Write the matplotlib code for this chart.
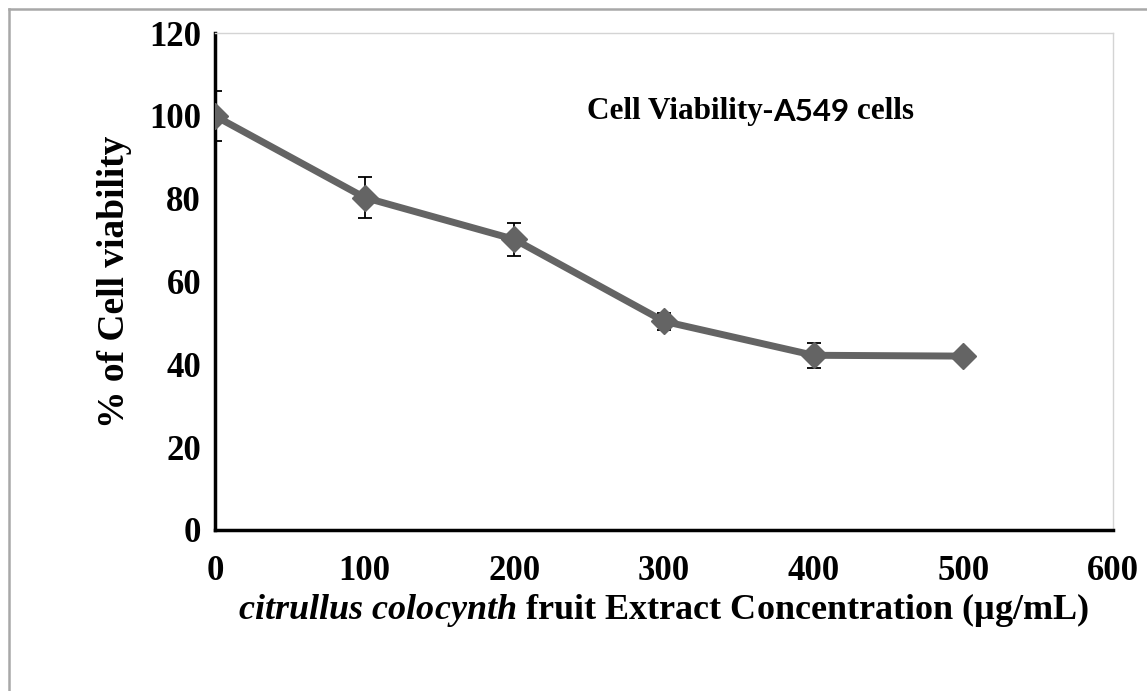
import numpy as np
import matplotlib.pyplot as plt
from matplotlib.lines import Line2D

# Data
conc = [0, 100, 200, 300, 400, 500]
viability = [100, 80.3, 70.2, 50.4, 42.2, 42.0]
err = [6, 5, 4, 2, 3, 1]

plt.rcParams['font.family'] = 'Liberation Serif'
plt.rcParams['font.weight'] = 'bold'
plt.rcParams['mathtext.fontset'] = 'custom'
plt.rcParams['mathtext.it'] = 'Liberation Serif:italic:bold'
plt.rcParams['mathtext.rm'] = 'Liberation Serif:bold'

fig = plt.figure(figsize=(11.47, 6.91), dpi=100)
ax = fig.add_axes([0.1874, 0.233, 0.783, 0.719])

ax.errorbar(conc, viability, yerr=err, color='#646464', lw=5, marker='D',
            markersize=13, ecolor='black', elinewidth=1.3, capsize=5, capthick=1.3,
            zorder=3)

ax.set_xlim(0, 600)
ax.set_ylim(0, 120)
ax.set_xticks(range(0, 601, 100))
ax.set_yticks(range(0, 121, 20))
ax.tick_params(length=0, labelsize=25)
ax.tick_params(axis='x', pad=18)
ax.tick_params(axis='y', pad=10)
for lab in ax.get_xticklabels() + ax.get_yticklabels():
    lab.set_fontweight('bold')

for s in ['left', 'bottom']:
    ax.spines[s].set_linewidth(2.5)
    ax.spines[s].set_color('black')
for s in ['top', 'right']:
    ax.spines[s].set_linewidth(1)
    ax.spines[s].set_color('#d4d4d4')

ax.set_xlabel(r'$\mathit{citrullus\ colocynth}$ fruit Extract Concentration (µg/mL)',
              fontsize=26, fontweight='bold', labelpad=2)
ax.set_ylabel('% of Cell viability', fontsize=27, fontweight='bold', labelpad=12)

# inner title with mixed fonts
t1 = ax.text(0.414, 0.828, 'Cell Viability-', transform=ax.transAxes,
             fontsize=22.5, fontweight='bold', va='baseline')
t2 = ax.annotate('A549', xy=(1, 0), xycoords=t1, va='bottom', fontsize=22.5,
                 fontweight='bold', family='Lato')
ax.annotate(' cells', xy=(1, 0), xycoords=t2, va='bottom', fontsize=22.5,
            fontweight='bold', family='Liberation Serif')

# figure border (top and left edge)
fig.add_artist(Line2D([9 / 1147, 9 / 1147], [0, 1 - 9 / 691], transform=fig.transFigure,
                      color='#a8a8a8', lw=1.8))
fig.add_artist(Line2D([9 / 1147, 1], [1 - 9 / 691, 1 - 9 / 691], transform=fig.transFigure,
                      color='#a8a8a8', lw=1.8))

fig.savefig('out.png', dpi=100)
